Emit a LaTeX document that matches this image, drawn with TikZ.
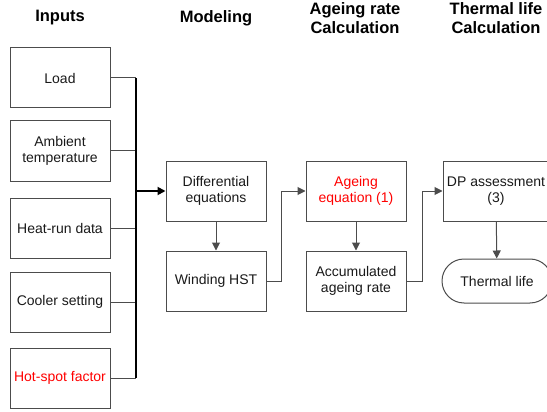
\documentclass[tikz,border=0pt]{standalone}
\usepackage{fontspec}
\setmainfont{Liberation Sans}
\usetikzlibrary{arrows.meta}

\tikzset{
    block/.style={draw=black!70, line width=1pt, minimum width=100pt, minimum height=60pt,
        inner sep=0pt, align=center, text=black!90, font=\fontsize{14}{16.5}\selectfont},
    title/.style={align=center, font=\fontsize{16.5}{19.5}\selectfont\bfseries},
    link/.style={draw=black!70, line width=1pt},
    flow/.style={link, -{Triangle[length=8pt,width=8pt]}}
}

\begin{document}
\begin{tikzpicture}[x=1pt, y=-1pt]
        \useasboundingbox (0,0) rectangle (547,412);
        \clip (0,0) rectangle (547,412);
        % column titles
        \node[title] (tin) at (60,18) {Inputs};
        \node[title] (tmod) at (216,18) {Modeling};
        \node[title] (tage) at (355,18) {Ageing rate\\Calculation};
        \node[title] (tlife) at (496,18) {Thermal life\\Calculation};
        % inputs
        \node[block] (load) at (60,78) {Load};
        \node[block] (amb) at (60,151) {Ambient\\temperature};
        \node[block] (heat) at (60,228) {Heat-run data};
        \node[block] (cool) at (60,302) {Cooler setting};
        \node[block, text=red] (hot) at (60,378) {Hot-spot factor};
        % modeling and ageing
        \node[block] (diff) at (216,191) {Differential\\equations};
        \node[block] (hst) at (216,281) {Winding HST};
        \node[block, text=red] (ageq) at (356,191) {Ageing\\equation (1)};
        \node[block] (accu) at (356,281) {Accumulated\\ageing rate};
        \node[block, minimum width=106pt] (dp) at (496,191) {DP assessment\\(3)};
        \node[block, minimum width=110pt, minimum height=44pt, rounded corners=22pt] (life) at (497,281) {Thermal life};
        % input bus
        \coordinate (bus) at (136,0);
        \draw[link] (load.east) -- (load.east -| bus);
        \draw[link] (amb.east) -- (amb.east -| bus);
        \draw[link] (heat.east) -- (heat.east -| bus);
        \draw[link] (cool.east) -- (cool.east -| bus);
        \draw[link] (hot.east) -- (hot.east -| bus);
        \draw[black, line width=1.3pt] (load.east -| bus) -- (hot.east -| bus);
        \draw[black, line width=1.8pt, -{Triangle[length=8pt,width=8pt]}] (diff.west -| bus) -- (diff.west);
        % flow
        \draw[flow] (diff) -- (hst);
        \draw[flow] (hst.east) -- ++(15,0) |- (ageq.west);
        \draw[flow] (ageq) -- (accu);
        \draw[flow] (accu.east) -- ++(16,0) |- (dp.west);
        \draw[flow] (dp) -- (life);
    \end{tikzpicture}
\end{document}
